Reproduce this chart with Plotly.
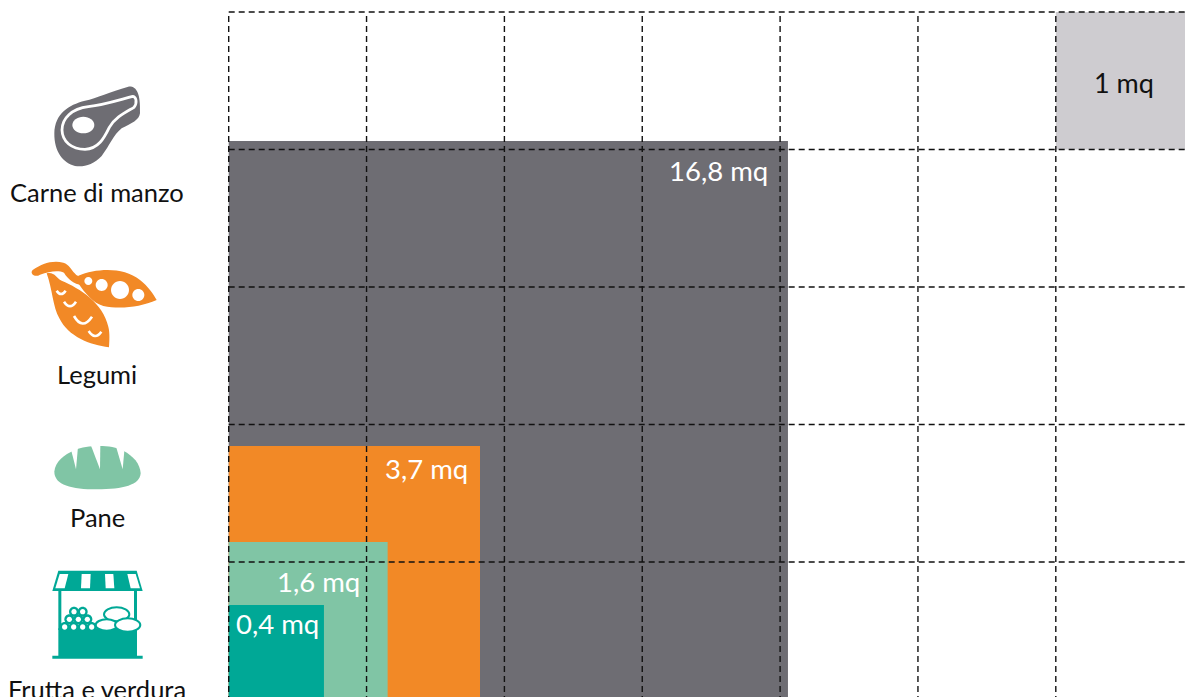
import re
import plotly.graph_objects as go

W, H = 1185, 697
CELL_X, CELL_Y = 137.85, 137.5
X0, Y0 = 228.7, 699.5

# --- data ---
foods = ["Carne di manzo", "Legumi", "Pane", "Frutta e verdura"]
areas = ["16,8 mq", "3,7 mq", "1,6 mq", "0,4 mq"]
widths = [4.057, 1.823, 1.153, 0.691]      # drawn square sizes, in grid cells
heights = [4.062, 1.844, 1.145, 0.687]
colors = ["#6E6D73", "#F28926", "#80C5A5", "#00A896"]
unit_label = "1 mq"
unit_color = "#CECCD0"
grid_x = [0, 1, 2, 3, 4, 5, 6]
grid_y = [1, 2, 3, 4, 5]
FONT = "Lato"


def dx(px):
    return (px - X0) / CELL_X


def dy(py):
    return (Y0 - py) / CELL_Y


fig = go.Figure()

# squares, biggest first
for name, w, h, col in zip(foods, widths, heights, colors):
    fig.add_trace(go.Bar(x=[w / 2], y=[h], width=[w], base=[0], name=name,
                         marker=dict(color=col, line=dict(width=0)), hoverinfo="skip"))
fig.add_trace(go.Bar(x=[6.5], y=[1], width=[1], base=[4], name=unit_label,
                     marker=dict(color=unit_color, line=dict(width=0)), hoverinfo="skip"))

# dashed grid above the squares
gx, gy = [], []
for v in grid_x:
    gx += [v, v, None]
    gy += [dy(H + 5), 5, None]
for v in grid_y:
    gx += [0, dx(W + 5), None]
    gy += [v, v, None]
fig.add_trace(go.Scatter(x=gx, y=gy, mode="lines", hoverinfo="skip",
                         line=dict(color="#111111", width=1.4, dash="6px,4px")))


def zpath(s, ox, oy):
    """Turn a path written in 3x crop coordinates into paper coordinates."""
    out, pair = [], []
    for tok in re.findall(r"[A-Za-z]|-?\d+\.?\d*", s):
        if tok.isalpha():
            out.append(tok)
        else:
            pair.append(float(tok))
            if len(pair) == 2:
                out.append(f"{(ox + pair[0] / 3) / W:.5f},{1 - (oy + pair[1] / 3) / H:.5f}")
                pair = []
    return " ".join(out)


def icon(s, ox, oy, fill=None, line=None, lw=0):
    fig.add_shape(type="path", xref="paper", yref="paper", path=zpath(s, ox, oy),
                  fillcolor=fill or "rgba(0,0,0,0)",
                  line=dict(color=line or "rgba(0,0,0,0)", width=lw), layer="above")


def circle(cx, cy, rx, ry, ox, oy, fill, line=None, lw=0):
    s = (f"M {cx - rx} {cy} C {cx - rx} {cy - .55 * ry} {cx - .55 * rx} {cy - ry} {cx} {cy - ry} "
         f"C {cx + .55 * rx} {cy - ry} {cx + rx} {cy - .55 * ry} {cx + rx} {cy} "
         f"C {cx + rx} {cy + .55 * ry} {cx + .55 * rx} {cy + ry} {cx} {cy + ry} "
         f"C {cx - .55 * rx} {cy + ry} {cx - rx} {cy + .55 * ry} {cx - rx} {cy} Z")
    icon(s, ox, oy, fill, line, lw)


# meat
GR, OR, GN, TL = colors
icon("M 163 190 C 165 130 205 105 255 92 C 290 85 330 65 385 50 C 410 48 422 70 420 130 "
     "C 418 150 395 160 365 175 C 340 195 330 225 305 258 C 280 285 250 292 225 288 "
     "C 190 280 162 245 163 190 Z", 0, 70, GR)
icon("M 395 80 C 350 92 310 105 265 110 C 215 116 186 145 186 180 C 187 215 215 238 255 238 "
     "C 295 236 312 205 328 172 C 345 142 375 128 402 112 C 412 100 410 76 395 80 Z",
     0, 70, None, "white", 2.8)
circle(250, 165, 33, 25, 0, 70, "white")

# legumes
icon("M 235 617 C 290 595 370 590 420 630 C 445 650 460 672 470 690 C 420 712 360 718 310 708 "
     "C 280 700 255 670 235 640 Z", 0, 70, OR)
icon("M 98 600 C 125 582 155 570 190 578 C 208 583 214 600 224 610 C 230 618 238 620 250 622 "
     "L 245 645 C 222 642 204 628 192 608 C 175 600 148 604 120 614 C 104 624 88 610 98 600 Z",
     0, 70, OR)
icon("M 140 610 C 165 605 168 625 185 632 C 240 655 310 700 325 770 C 330 790 328 815 327 832 "
     "C 270 825 205 800 178 745 C 158 710 158 660 140 610 Z", 0, 70, OR)
for c in [(265, 633, 12), (305, 645, 18), (360, 660, 27), (415, 675, 18)]:
    circle(c[0], c[1], c[2], c[2], 0, 70, "white")
for s in ["M 170 662 Q 183 682 197 662", "M 192 695 Q 210 722 228 695",
          "M 222 738 Q 247 782 276 740", "M 266 783 Q 285 812 304 785"]:
    icon(s, 0, 70, None, "white", 2.6)

# bread
icon("M 163 125 C 166 95 190 75 225 60 C 260 46 330 42 370 62 C 400 78 420 100 422 130 "
     "C 420 165 370 178 290 178 C 215 178 163 165 163 125 Z", 0, 430, GN)
for s in ["M 214 62 L 228 118 L 234 50 Z", "M 272 44 L 300 118 L 301 44 Z",
          "M 347 46 L 368 118 L 373 62 Z"]:
    icon(s, 0, 430, "white")

# market stall
icon("M 175 422 L 410 422 L 428 483 L 157 483 Z", 0, 430, TL)
for s in ["M 179 432 L 205 432 L 194 475 L 166 475 Z", "M 245 432 L 272 432 L 270 475 L 243 475 Z",
          "M 315 432 L 340 432 L 343 475 L 317 475 Z", "M 382 432 L 407 432 L 420 475 L 392 475 Z"]:
    icon(s, 0, 430, "white")
icon("M 175 483 L 184 483 L 184 600 L 175 600 Z", 0, 430, TL)
icon("M 402 483 L 411 483 L 411 600 L 402 600 Z", 0, 430, TL)
icon("M 175 595 L 411 595 L 411 678 L 175 678 Z", 0, 430, TL)
icon("M 157 677 L 428 677 L 428 686 L 157 686 Z", 0, 430, TL)
for cx, cy in [(222, 545), (248, 545), (208, 568), (235, 568), (262, 568),
               (194, 591), (221, 591), (248, 591), (275, 591)]:
    circle(cx, cy, 15, 15, 0, 430, TL)
for cx, cy in [(222, 545), (248, 545), (208, 568), (235, 568), (262, 568),
               (194, 591), (221, 591), (248, 591), (275, 591)]:
    circle(cx, cy, 8, 8, 0, 430, "white")
circle(350, 553, 38, 21, 0, 430, "white", TL, 2)
circle(320, 585, 33, 17, 0, 430, "white", TL, 2)
circle(383, 585, 38, 20, 0, 430, "white", TL, 2)

# left-hand labels
for name, py in zip(foods, [192, 374, 517, 689]):
    fig.add_annotation(text=name, xref="paper", yref="paper", x=97 / W, y=1 - py / H,
                       showarrow=False, xanchor="center", yanchor="middle",
                       font=dict(family=FONT, size=25.5, color="#111111"))

# area labels inside the squares
for txt, px, py in zip(areas, [718, 426, 318, 277], [170, 468, 581, 623]):
    fig.add_annotation(text=txt, x=dx(px), y=dy(py), showarrow=False, xanchor="center",
                       yanchor="middle", font=dict(family=FONT, size=27.5, color="white"))
fig.add_annotation(text=unit_label, x=dx(1124), y=dy(82), showarrow=False, xanchor="center",
                   yanchor="middle", font=dict(family=FONT, size=27, color="#111111"))

fig.update_layout(
    width=W, height=H, margin=dict(l=0, r=0, t=0, b=0, pad=0, autoexpand=False),
    paper_bgcolor="white", plot_bgcolor="white", barmode="overlay", showlegend=False,
    xaxis=dict(range=[dx(0), dx(W)], visible=False, fixedrange=True),
    yaxis=dict(range=[dy(H), dy(0)], visible=False, fixedrange=True),
)
fig.write_html("out.html", config={"displayModeBar": False},
               post_script="document.body.style.margin='0';document.body.style.overflow='hidden';")
